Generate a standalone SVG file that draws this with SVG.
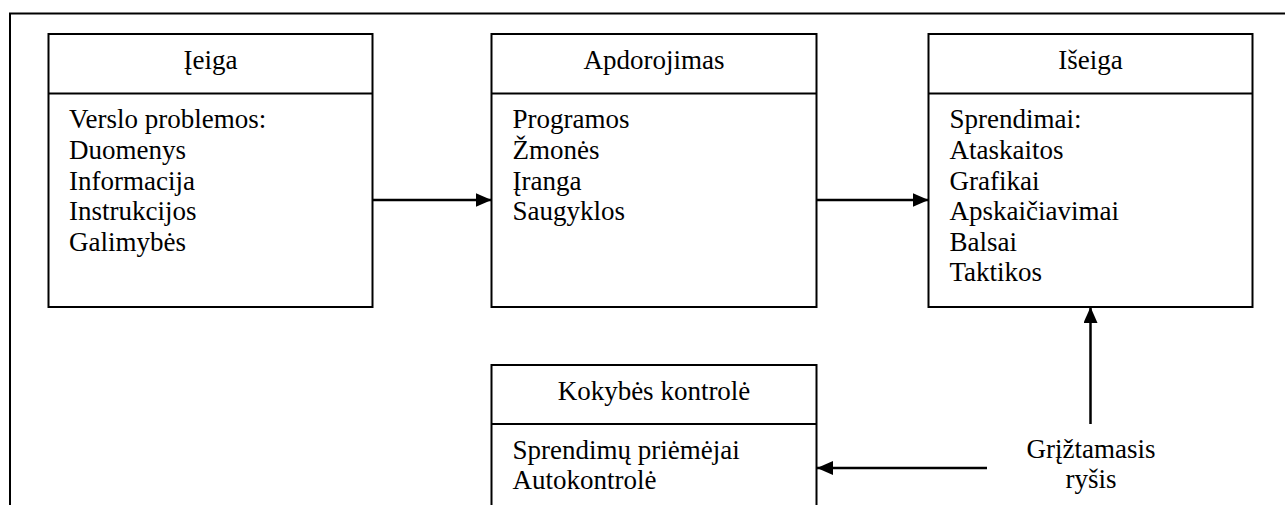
<svg xmlns="http://www.w3.org/2000/svg" width="1285" height="505" viewBox="0 0 1285 505">
  <style>
    .frame { fill: none; stroke: #000; stroke-width: 2; }
    .box { fill: #fff; stroke: #000; stroke-width: 2; }
    .sep { stroke: #000; stroke-width: 2; }
    .wire { fill: none; stroke: #000; stroke-width: 2.5; }
    text { font-family: "Liberation Serif", "Times New Roman", serif; font-size: 27px; fill: #000; }
    .title { text-anchor: middle; }
  </style>
  <defs>
    <marker id="arrow" viewBox="0 0 16 14" refX="16" refY="7" markerWidth="16" markerHeight="14" markerUnits="userSpaceOnUse" orient="auto">
      <path d="M0,0 L16,7 L0,14 Z" fill="#000"/>
    </marker>
  </defs>

  <rect width="1285" height="505" fill="#fff"/>

  <!-- outer frame (top and left edges) -->
  <path class="frame" d="M10,505 L10,13.5 L1285,13.5"/>

  <g id="ieiga">
    <rect class="box" x="48.5" y="34" width="324" height="273"/>
    <line class="sep" x1="48.5" y1="93.5" x2="372.5" y2="93.5"/>
    <text class="title" x="210.5" y="69">Įeiga</text>
    <text x="69" y="128">Verslo problemos:</text>
    <text x="69" y="158.5">Duomenys</text>
    <text x="69" y="189.5">Informacija</text>
    <text x="69" y="220">Instrukcijos</text>
    <text x="69" y="250.5">Galimybės</text>
  </g>

  <g id="apdorojimas">
    <rect class="box" x="491.5" y="34" width="325" height="273"/>
    <line class="sep" x1="491.5" y1="93.5" x2="816.5" y2="93.5"/>
    <text class="title" x="654" y="69">Apdorojimas</text>
    <text x="512.5" y="128">Programos</text>
    <text x="512.5" y="158.5">Žmonės</text>
    <text x="512.5" y="189.5">Įranga</text>
    <text x="512.5" y="220">Saugyklos</text>
  </g>

  <g id="iseiga">
    <rect class="box" x="928.5" y="34" width="324" height="273"/>
    <line class="sep" x1="928.5" y1="93.5" x2="1252.5" y2="93.5"/>
    <text class="title" x="1090.5" y="69">Išeiga</text>
    <text x="949.5" y="128">Sprendimai:</text>
    <text x="949.5" y="158.5">Ataskaitos</text>
    <text x="949.5" y="189.5">Grafikai</text>
    <text x="949.5" y="220">Apskaičiavimai</text>
    <text x="949.5" y="250.5">Balsai</text>
    <text x="949.5" y="281">Taktikos</text>
  </g>

  <g id="kokybes-kontrole">
    <rect class="box" x="491.5" y="365" width="325" height="160"/>
    <line class="sep" x1="491.5" y1="424" x2="816.5" y2="424"/>
    <text class="title" x="654" y="400">Kokybės kontrolė</text>
    <text x="512.5" y="459">Sprendimų priėmėjai</text>
    <text x="512.5" y="489">Autokontrolė</text>
  </g>

  <g id="griztamasis-rysis">
    <text class="title" x="1091" y="458">Grįžtamasis</text>
    <text class="title" x="1091" y="488">ryšis</text>
  </g>

  <g id="connectors">
    <line class="wire" x1="373" y1="200" x2="491.5" y2="200" marker-end="url(#arrow)"/>
    <line class="wire" x1="817" y1="200" x2="928.5" y2="200" marker-end="url(#arrow)"/>
    <line class="wire" x1="1090.5" y1="424" x2="1090.5" y2="307" marker-end="url(#arrow)"/>
    <line class="wire" x1="987" y1="468" x2="817" y2="468" marker-end="url(#arrow)"/>
  </g>
</svg>
